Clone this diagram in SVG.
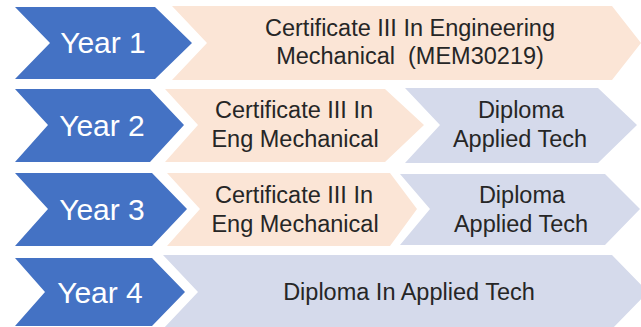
<svg xmlns="http://www.w3.org/2000/svg" width="641" height="327" viewBox="0 0 641 327">
<style>
.yr{fill:#4472C4}
.pe{fill:#FBE5D6}
.la{fill:#D5DAEB}
.yt{font-family:"Liberation Sans",Arial,sans-serif;font-size:30px;fill:#FFFFFF;text-anchor:middle}
.bt{font-family:"Liberation Sans",Arial,sans-serif;font-size:23.5px;fill:#262626;text-anchor:middle}
</style>
<rect width="641" height="327" fill="#FFFFFF"/>
<g id="year1">
<polygon class="yr" points="15,7 155,7 192,43 155,79 15,79 50,43"/>
<text class="yt" x="103" y="53">Year 1</text>
</g>
<g id="cert-year1">
<polygon class="pe" points="172,6 612,6 641,43 612,80 172,80 207,43"/>
<text class="bt" x="410" y="36">Certificate III In Engineering</text>
<text class="bt" x="410" y="64">Mechanical&#160; (MEM30219)</text>
</g>
<g id="year2">
<polygon class="yr" points="15,89 150,89 184,125 150,162 15,162 48,125"/>
<text class="yt" x="102" y="136">Year 2</text>
</g>
<g id="cert-year2">
<polygon class="pe" points="165,89 385,89 424,125 385,162 165,162 198,125"/>
<text class="bt" x="294" y="118">Certificate III In</text>
<text class="bt" x="295" y="147">Eng Mechanical</text>
</g>
<g id="dip-year2">
<polygon class="la" points="405,88 598,88 637,125 598,163 405,163 440,125"/>
<text class="bt" x="521" y="118">Diploma</text>
<text class="bt" x="520" y="147">Applied Tech</text>
</g>
<g id="year3">
<polygon class="yr" points="15,173 152,173 187,209 152,246 15,246 48,209"/>
<text class="yt" x="102" y="220">Year 3</text>
</g>
<g id="cert-year3">
<polygon class="pe" points="167,173 390,173 417,209 390,246 167,246 200,209"/>
<text class="bt" x="294" y="203">Certificate III In</text>
<text class="bt" x="295" y="232">Eng Mechanical</text>
</g>
<g id="dip-year3">
<polygon class="la" points="400,174 605,174 640,209 605,245 400,245 430,209"/>
<text class="bt" x="522" y="203">Diploma</text>
<text class="bt" x="521" y="232">Applied Tech</text>
</g>
<g id="year4">
<polygon class="yr" points="15,258 152,258 185,292 152,326 15,326 45,292"/>
<text class="yt" x="100" y="303">Year 4</text>
</g>
<g id="dip-year4">
<polygon class="la" points="163,255 612,255 648,292 612,329 163,329 198,292"/>
<text class="bt" x="409" y="300">Diploma In Applied Tech</text>
</g>
<g id="connectors"></g>
</svg>
